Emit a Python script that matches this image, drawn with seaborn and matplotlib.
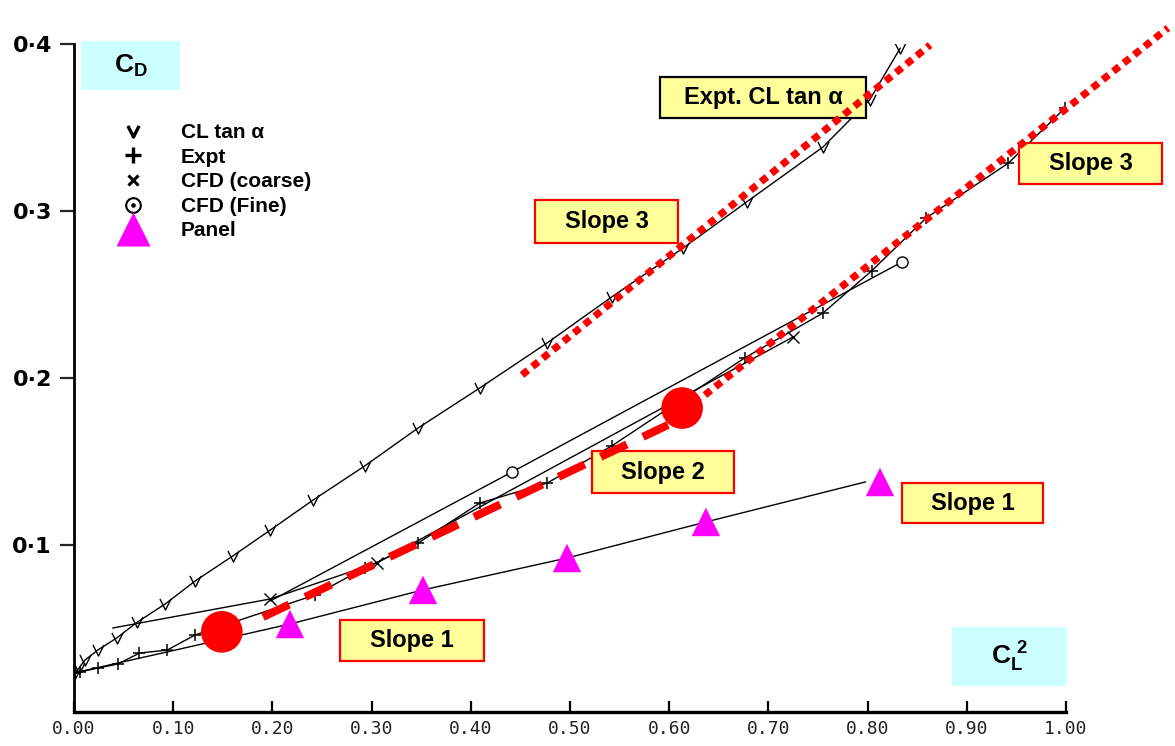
import matplotlib
matplotlib.use("Agg")
import matplotlib.pyplot as plt
from matplotlib.lines import Line2D
from matplotlib.patches import Rectangle
from matplotlib.path import Path
import seaborn as sns

# drag polar CD vs CL^2
cltan_x = [0.001, 0.005, 0.011, 0.024, 0.043, 0.064, 0.092, 0.122, 0.160, 0.198, 0.241,
           0.293, 0.347, 0.409, 0.477, 0.542, 0.614, 0.678, 0.755, 0.802, 0.833]
cltan_y = [0.0234, 0.0263, 0.0311, 0.0371, 0.0443, 0.0539, 0.0647, 0.0784, 0.0934, 0.1090, 0.1269,
           0.1473, 0.1701, 0.1940, 0.2210, 0.2485, 0.2778, 0.3054, 0.3383, 0.3665, 0.3976]

expt_x = [0.001, 0.006, 0.024, 0.044, 0.066, 0.094, 0.122, 0.243, 0.293, 0.347, 0.409,
          0.477, 0.542, 0.676, 0.755, 0.804, 0.859, 0.942, 0.999]
expt_y = [0.0234, 0.0240, 0.0263, 0.0287, 0.0353, 0.0371, 0.0461, 0.0701, 0.0862, 0.1012, 0.1251,
          0.1371, 0.1593, 0.2120, 0.2389, 0.2641, 0.2958, 0.3287, 0.3617]

coarse_x = [0.039, 0.198, 0.305, 0.725]
coarse_y = [0.0503, 0.0677, 0.0892, 0.2246]
coarse_marked = [False, True, True, True]

fine_x = [0.198, 0.4415, 0.8347]
fine_y = [0.0665, 0.1437, 0.2695]
fine_marked = [False, True, True]

panel_line_x = [0.0, 0.10, 0.2177, 0.3518, 0.497, 0.637, 0.798]
panel_line_y = [0.0234, 0.0368, 0.0527, 0.0731, 0.0922, 0.1138, 0.1378]
panel_x = [0.2177, 0.3518, 0.497, 0.637, 0.8125]
panel_y = [0.0527, 0.0731, 0.0922, 0.1138, 0.1377]

break_x = [0.149, 0.613]
break_y = [0.048, 0.182]

slope2_x = [0.1905, 0.5988]
slope2_y = [0.0569, 0.1719]
slope3a_x = [0.4516, 0.863]
slope3a_y = [0.2018, 0.3994]
slope3b_x = [0.636, 1.1028]
slope3b_y = [0.1898, 0.4096]

x_ticks = [0.0, 0.1, 0.2, 0.3, 0.4, 0.5, 0.6, 0.7, 0.8, 0.9, 1.0]
y_ticks = [0.1, 0.2, 0.3, 0.4]
y_tick_labels = ['0·1', '0·2', '0·3', '0·4']
legend_labels = ['CL tan α', 'Expt', 'CFD (coarse)', 'CFD (Fine)', 'Panel']

sns.set_theme(style='white')
plt.rcParams['font.family'] = ['Liberation Sans', 'DejaVu Sans']
plt.rcParams['text.color'] = 'black'
plt.rcParams['mathtext.fontset'] = 'custom'
plt.rcParams['mathtext.bf'] = 'Liberation Sans:bold'
plt.rcParams['mathtext.rm'] = 'Liberation Sans'

V_MARK = Path([(-1, 1), (0, -1), (1, 1)], [Path.MOVETO, Path.LINETO, Path.LINETO])
MAGENTA = '#ff00ff'
RED = '#ff0000'

fig = plt.figure(figsize=(11.75, 7.46), dpi=100)
ax = fig.add_axes([74 / 1175, 34 / 746, 992 / 1175, 668 / 746])
ax.set_xlim(0, 1.0)
ax.set_ylim(0, 0.4)

line_kw = dict(color='black', lw=1.0, sort=False, estimator=None, ax=ax, zorder=2)
sns.lineplot(x=cltan_x, y=cltan_y, marker=V_MARK, markersize=8, markerfacecolor='none',
             markeredgecolor='black', markeredgewidth=1.0, **line_kw)
sns.lineplot(x=expt_x, y=expt_y, marker='+', markersize=9,
             markeredgecolor='black', markeredgewidth=1.1, **line_kw)
sns.lineplot(x=coarse_x, y=coarse_y, **line_kw)
sns.lineplot(x=fine_x, y=fine_y, **line_kw)
sns.lineplot(x=panel_line_x, y=panel_line_y, **line_kw)

ax.plot([x for x, m in zip(coarse_x, coarse_marked) if m],
        [y for y, m in zip(coarse_y, coarse_marked) if m],
        ls='none', marker='x', ms=8, mec='black', mew=1.0, zorder=2)
ax.plot([x for x, m in zip(fine_x, fine_marked) if m],
        [y for y, m in zip(fine_y, fine_marked) if m],
        ls='none', marker='o', ms=8, mfc='white', mec='black', mew=1.0, zorder=2)

# overlay slopes
ax.plot(slope2_x, slope2_y, color=RED, lw=5.8, dashes=(3.6, 2.2),
        dash_capstyle='butt', zorder=4)
for sx, sy in [(slope3a_x, slope3a_y), (slope3b_x, slope3b_y)]:
    ax.plot(sx, sy, color=RED, lw=5.2, dashes=(1.05, 0.8),
            dash_capstyle='butt', zorder=4, clip_on=False)

sns.scatterplot(x=panel_x, y=panel_y, marker='^', s=420, color=MAGENTA,
                edgecolor='none', ax=ax, zorder=5, legend=False)
sns.scatterplot(x=break_x, y=break_y, marker='o', s=900, color=RED,
                edgecolor='none', ax=ax, zorder=6, legend=False)


def label_box(xc, yc, w, h, text, face, edge, size):
    ax.add_patch(Rectangle((xc - w / 2, yc - h / 2), w, h, facecolor=face,
                           edgecolor=edge, lw=1.6 if edge != 'none' else 0,
                           zorder=3, clip_on=False))
    ax.text(xc, yc, text, ha='center', va='center', fontsize=size,
            fontweight='bold', color='black', zorder=3.5, clip_on=False)


label_box(0.057, 0.3871, 0.0998, 0.0293, r'$\mathbf{C_D}$', '#ccffff', 'none', 19)
label_box(0.943, 0.0332, 0.116, 0.0353, r'$\mathbf{C_L^{\ 2}}$', '#ccffff', 'none', 19)
label_box(0.6946, 0.3680, 0.2077, 0.0246, 'Expt. CL tan α', '#ffff99', 'black', 17)
label_box(0.5368, 0.2937, 0.144, 0.0257, 'Slope 3', '#ffff99', RED, 17)
label_box(1.0247, 0.3284, 0.144, 0.0246, 'Slope 3', '#ffff99', RED, 17)
label_box(0.5938, 0.1437, 0.143, 0.0251, 'Slope 2', '#ffff99', RED, 17)
label_box(0.9057, 0.1251, 0.142, 0.0240, 'Slope 1', '#ffff99', RED, 17)
label_box(0.3407, 0.0428, 0.145, 0.0245, 'Slope 1', '#ffff99', RED, 17)

handles = [
    Line2D([], [], ls='none', marker=V_MARK, ms=8, mfc='none', mec='black', mew=2.4),
    Line2D([], [], ls='none', marker='+', ms=11, mec='black', mew=2.4),
    Line2D([], [], ls='none', marker='x', ms=7, mec='black', mew=2.2),
    Line2D([], [], ls='none', marker=r'$\odot$', ms=11, mec='black', mfc='black'),
    Line2D([], [], ls='none', marker='^', ms=24, color=MAGENTA, mec='none'),
]
leg = ax.legend(handles, legend_labels, loc='upper left', frameon=False,
                bbox_to_anchor=(112 / 1175, 1 - 123 / 746), bbox_transform=fig.transFigure,
                borderpad=0, borderaxespad=0, handlelength=2.0, handletextpad=1.3,
                labelspacing=0.27, prop=dict(family='Liberation Sans', weight='bold', size=15))
for t in leg.get_texts():
    t.set_color('black')

# axes styling
for side in ['top', 'right']:
    ax.spines[side].set_visible(False)
ax.spines['left'].set_linewidth(2.0)
ax.spines['bottom'].set_linewidth(2.4)
ax.spines['left'].set_color('black')
ax.spines['bottom'].set_color('black')

ax.set_xticks(x_ticks)
ax.set_xticklabels([f'{t:.2f}' for t in x_ticks], family='DejaVu Sans Mono',
                   fontsize=13, color='#222222')
ax.set_yticks(y_ticks)
ax.set_yticklabels(y_tick_labels, family='DejaVu Sans', fontsize=16,
                   fontweight='bold', color='black')
ax.tick_params(axis='x', direction='in', length=8, width=1.6, pad=6, colors='black',
               labelcolor='#222222', bottom=True)
ax.tick_params(axis='y', direction='out', length=10, width=1.6, pad=6, left=True)
ax.set_xlabel('')
ax.set_ylabel('')
ax.grid(False)

fig.savefig('out.png', dpi=100)
